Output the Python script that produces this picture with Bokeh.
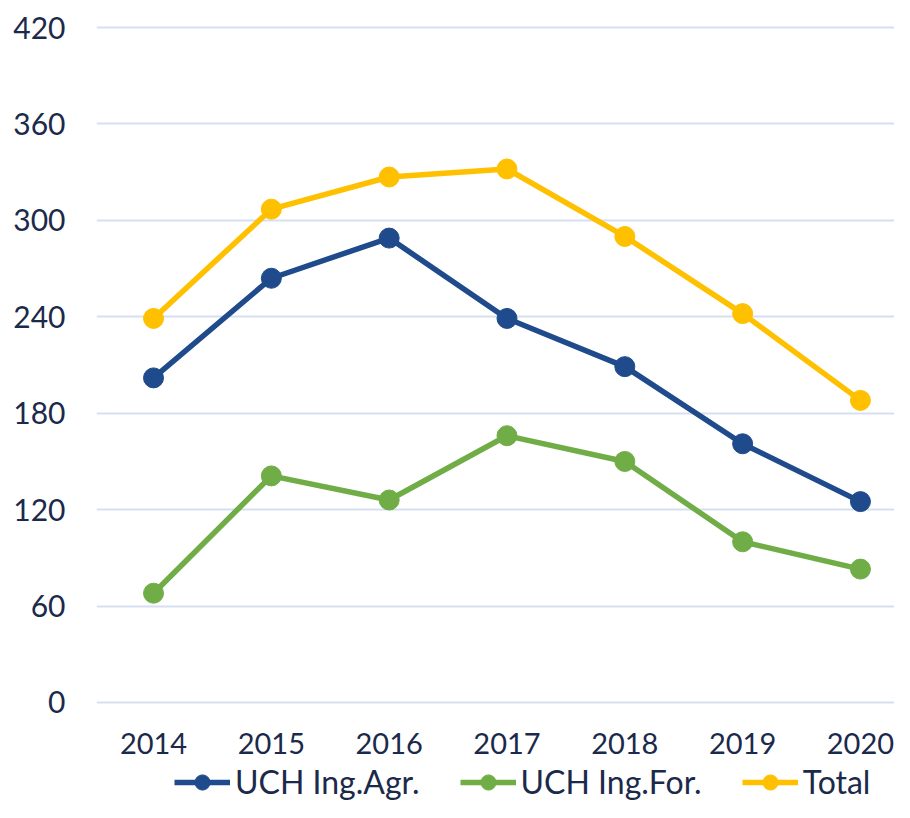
from bokeh.plotting import figure
from bokeh.models import Range1d, FixedTicker, Legend, LegendItem
from bokeh.layouts import column
from bokeh.embed import file_html
from bokeh.resources import INLINE

years = [2014, 2015, 2016, 2017, 2018, 2019, 2020]
agr = [202, 264, 289, 239, 209, 161, 125]
forest = [68, 141, 126, 166, 150, 100, 83]
total = [239, 307, 327, 332, 290, 242, 188]
y_ticks = [0, 60, 120, 180, 240, 300, 360, 420]
names = ["UCH Ing.Agr.", "UCH Ing.For.", "Total"]
colors = ["#1F4A8B", "#70AD47", "#FFC000"]

FONT = "Lato"
TXT = "#1B2A4A"
LW = 5.5

p = figure(width=894, height=762, output_backend="svg", toolbar_location=None,
           x_range=Range1d(2013.516, 2020.289), y_range=Range1d(-2.5, 424.4),
           min_border_left=96, min_border_right=0, min_border_top=20, min_border_bottom=56)
p.outline_line_color = None
p.background_fill_color = "white"
p.border_fill_color = "white"

p.xgrid.grid_line_color = None
p.ygrid.grid_line_color = "#D5DFF2"
p.ygrid.grid_line_width = 2

for ax in (p.xaxis[0], p.yaxis[0]):
    ax.axis_line_color = None
    ax.major_tick_line_color = None
    ax.minor_tick_line_color = None
    ax.major_label_text_font = FONT
    ax.major_label_text_color = TXT

p.xaxis[0].major_label_text_font_size = "29px"
p.yaxis[0].major_label_text_font_size = "30px"
p.xaxis[0].ticker = FixedTicker(ticks=years)
p.yaxis[0].ticker = FixedTicker(ticks=y_ticks)
p.xaxis[0].major_label_standoff = 20
p.yaxis[0].major_label_standoff = 25

series = [agr, forest, total]
for vals, c in zip(series, colors):
    p.line(years, vals, line_color=c, line_width=LW)
    p.scatter(years, vals, size=20, fill_color=c, line_color=c)

# legend strip under the chart (its glyphs fall outside this strip's ranges)
lg = figure(width=894, height=40, output_backend="svg", toolbar_location=None,
            x_range=Range1d(0, 1), y_range=Range1d(0, 1),
            x_axis_type=None, y_axis_type=None,
            min_border_left=0, min_border_right=0, min_border_top=0, min_border_bottom=0)
lg.outline_line_color = None
lg.grid.visible = False
lg.background_fill_color = "white"
lg.border_fill_color = "white"

items = []
for vals, name, c in zip(series, names, colors):
    r1 = lg.line(years, vals, line_color=c, line_width=LW)
    r2 = lg.scatter(years, vals, size=20, fill_color=c, line_color=c)
    items.append(LegendItem(label=name, renderers=[r1, r2]))

legend = Legend(items=items, orientation="horizontal", location=(78, 1),
                padding=0, margin=0, spacing=40, glyph_width=56, glyph_height=38,
                label_height=38, label_standoff=5,
                label_text_font=FONT, label_text_font_size="32px", label_text_color=TXT,
                border_line_color=None, background_fill_alpha=0)
lg.add_layout(legend, "center")

layout = column(p, lg, spacing=0)
open("out.html", "w").write(file_html(layout, INLINE))
